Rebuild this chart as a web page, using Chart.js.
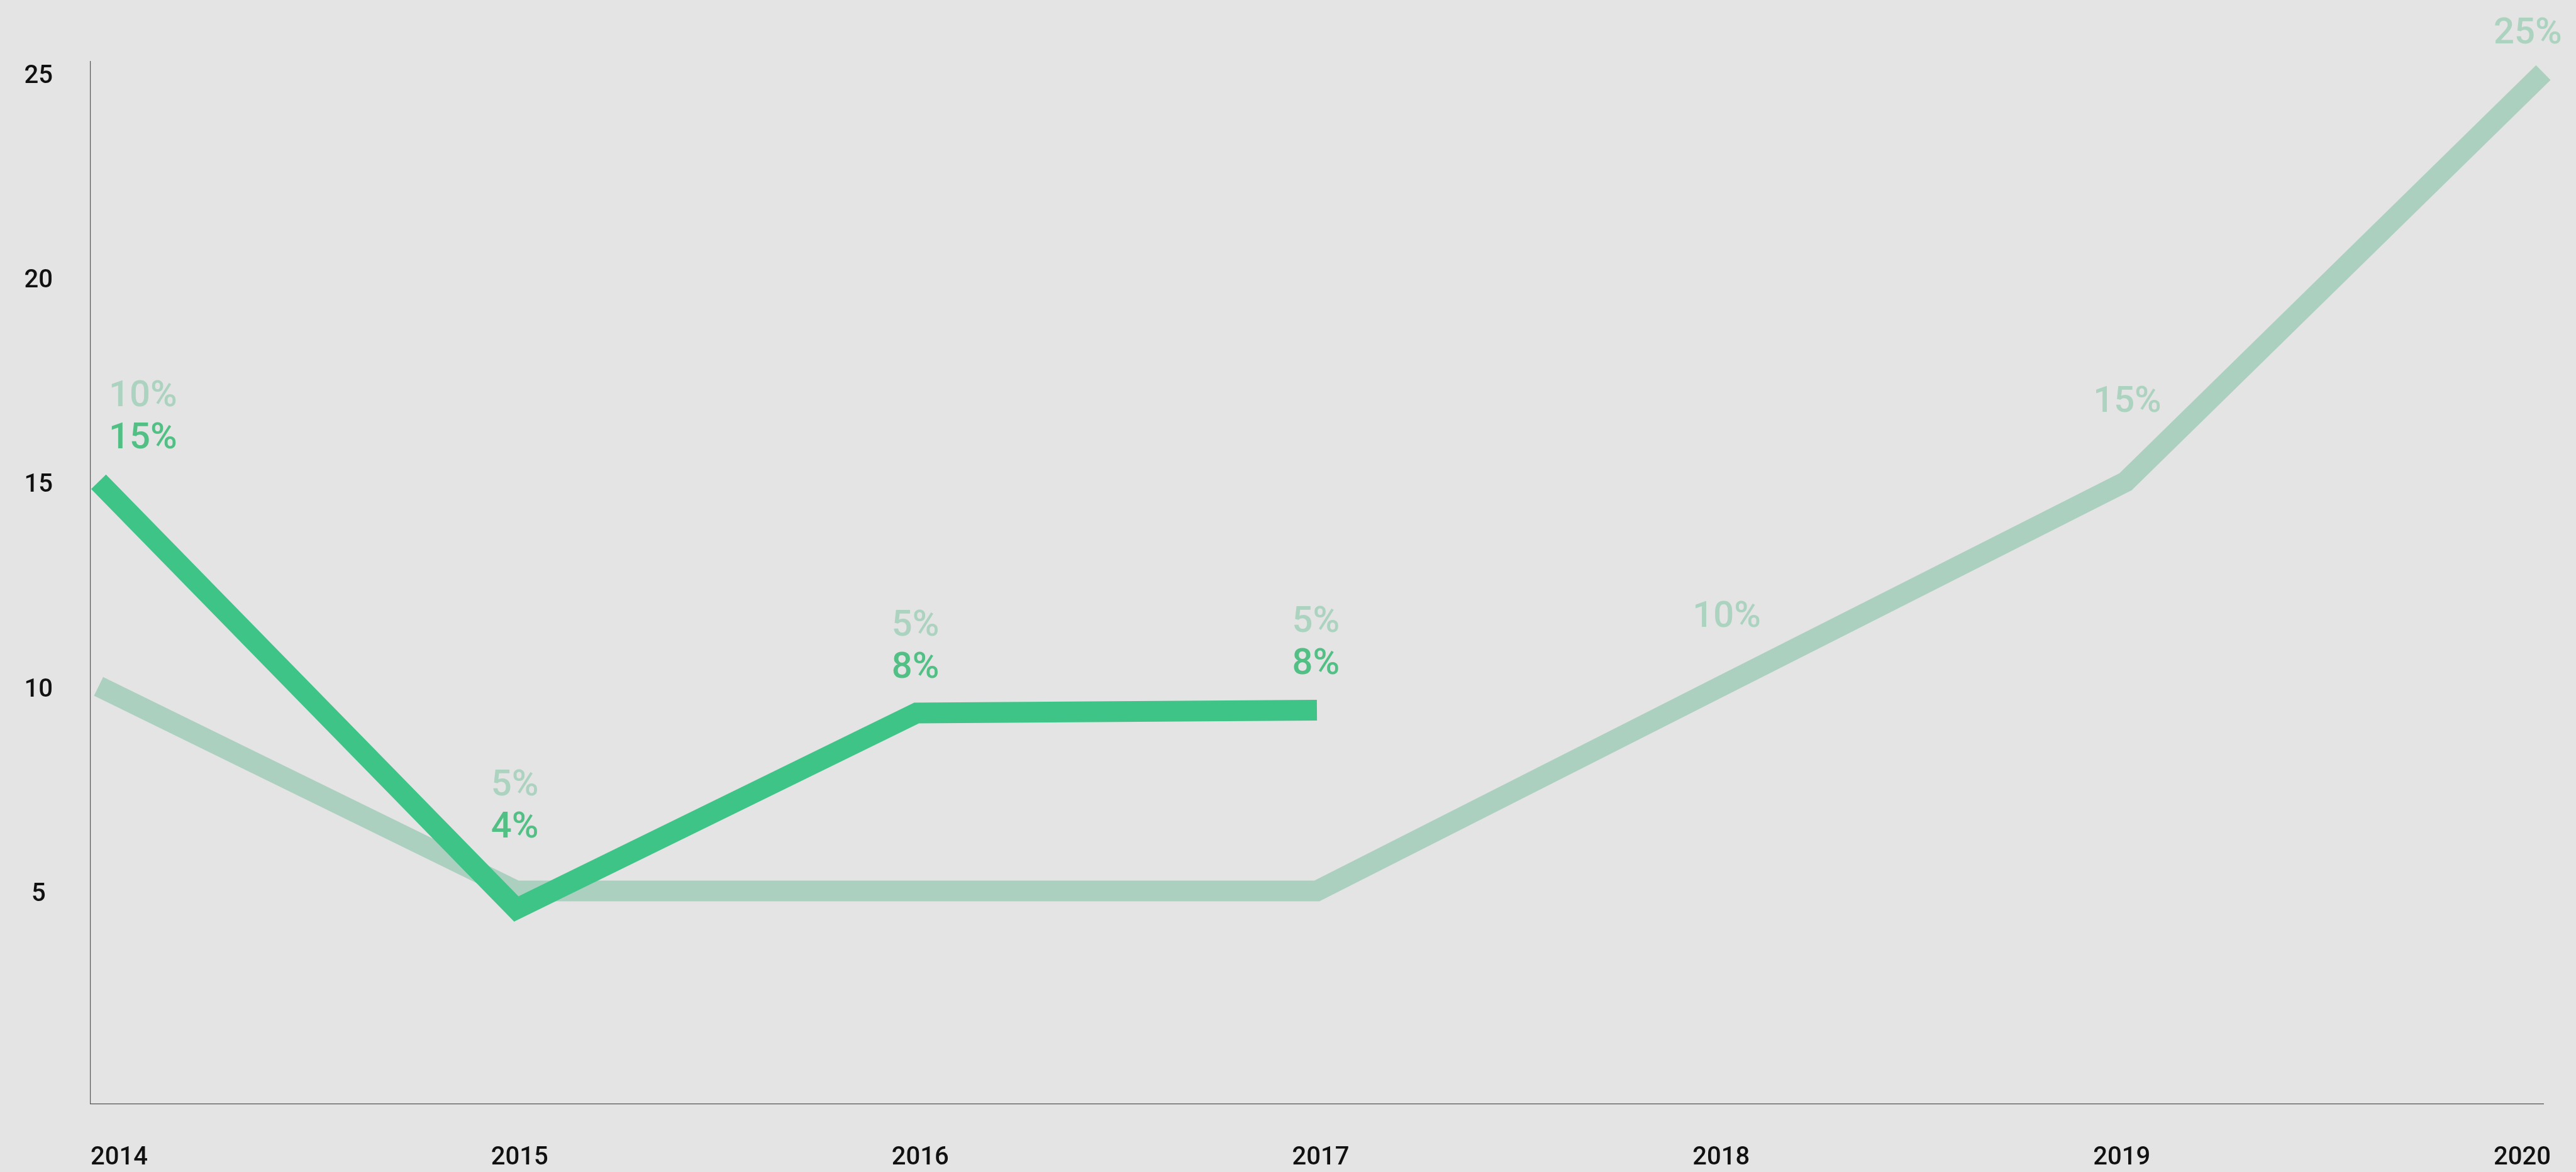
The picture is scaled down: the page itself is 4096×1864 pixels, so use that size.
<!DOCTYPE html>
<html>
<head>
<meta charset="utf-8">
<title>Trend</title>
<script src="https://cdn.jsdelivr.net/npm/chart.js@4.4.1/dist/chart.umd.min.js"></script>
<style>
    html, body { margin: 0; padding: 0; background: #e4e4e4; }
    #wrap { width: 4096px; height: 1864px; position: relative; }
</style>
</head>
<body>
<div id="wrap"><canvas id="trendChart"></canvas></div>
<script>
"use strict";

const years = [2014, 2015, 2016, 2017, 2018, 2019, 2020];
const yTicks = [5, 10, 15, 20, 25];

const lightX = [2014.02, 2015.063, 2016.0625, 2017.062, 2018.07, 2019.081, 2020.124];
const lightValues = [10, 5, 5, 5, 10, 15, 25];
const lightLabels = ['10%', '5%', '5%', '5%', '10%', '15%', '25%'];

const darkX = [2014.02, 2015.063, 2016.0625, 2017.062];
const darkValues = [15, 4.56, 9.35, 9.42];
const darkLabels = ['15%', '4%', '8%', '8%'];

// axis value at which the lower label of each year column sits
const labelLevel = [16.13, 6.62, 10.53, 10.62, 11.77, 17.02, 26.03];

document.addEventListener('DOMContentLoaded', function () {
    const canvas = document.getElementById('trendChart');

    const percentLabels = {
        id: 'percentLabels',
        afterDatasetsDraw(chart) {
            const ctx = chart.ctx;
            const xs = chart.scales.x;
            const ys = chart.scales.y;
            const size = 58;
            ctx.save();
            ctx.font = '500 ' + size + 'px Roboto';
            ctx.textAlign = 'left';
            ctx.textBaseline = 'alphabetic';
            years.forEach((year, i) => {
                let x = xs.getPixelForValue(year);
                if (i === 0) x += 29;
                // put the middle of the digits on the level
                let y = ys.getPixelForValue(labelLevel[i]) + size * 0.355;
                if (i < darkLabels.length) {
                    ctx.fillStyle = '#52bf85';
                    ctx.fillText(darkLabels[i], x, y);
                    y -= 67;
                }
                ctx.fillStyle = '#acd2c0';
                ctx.fillText(lightLabels[i], x, y);
            });
            ctx.restore();
        }
    };

    const tickFont = { family: 'Roboto', size: 40, weight: '500' };

    new Chart(canvas, {
        type: 'line',
        data: {
            datasets: [{
                label: 'Dark',
                data: darkX.map((x, i) => ({ x: x, y: darkValues[i] })),
                borderColor: '#3fc487',
                borderWidth: 33,
                borderJoinStyle: 'miter',
                borderCapStyle: 'butt',
                pointRadius: 0,
                tension: 0,
                clip: false,
                order: 0
            }, {
                label: 'Light',
                data: lightX.map((x, i) => ({ x: x, y: lightValues[i] })),
                borderColor: '#acd0c0',
                borderWidth: 33,
                borderJoinStyle: 'miter',
                borderCapStyle: 'butt',
                pointRadius: 0,
                tension: 0,
                clip: false,
                order: 1
            }]
        },
        options: {
            responsive: true,
            maintainAspectRatio: false,
            animation: false,
            layout: { padding: { top: 98, right: 52, bottom: 0, left: 0 } },
            plugins: {
                legend: { display: false },
                tooltip: { enabled: false }
            },
            scales: {
                x: {
                    type: 'linear',
                    min: 2014,
                    max: 2020.124,
                    grid: { display: false, drawTicks: true, tickLength: 63 },
                    border: { display: true, color: '#555', width: 1.2 },
                    afterBuildTicks: s => { s.ticks = years.map(v => ({ value: v })); },
                    afterFit: s => { s.height = 108.6; },
                    ticks: {
                        align: 'start',
                        padding: 0,
                        maxRotation: 0,
                        autoSkip: false,
                        color: '#111',
                        font: tickFont,
                        callback: v => String(v)
                    }
                },
                y: {
                    type: 'linear',
                    min: -0.2,
                    max: 25.27,
                    grid: { display: false, drawTicks: false },
                    border: { display: true, color: '#555', width: 1.2 },
                    afterBuildTicks: s => { s.ticks = yTicks.map(v => ({ value: v })); },
                    afterFit: s => { s.width = 144; },
                    ticks: {
                        crossAlign: 'center',
                        padding: 60,
                        labelOffset: 6,
                        color: '#111',
                        font: tickFont,
                        callback: v => String(v)
                    }
                }
            }
        },
        plugins: [percentLabels]
    });
});
</script>
</body>
</html>
